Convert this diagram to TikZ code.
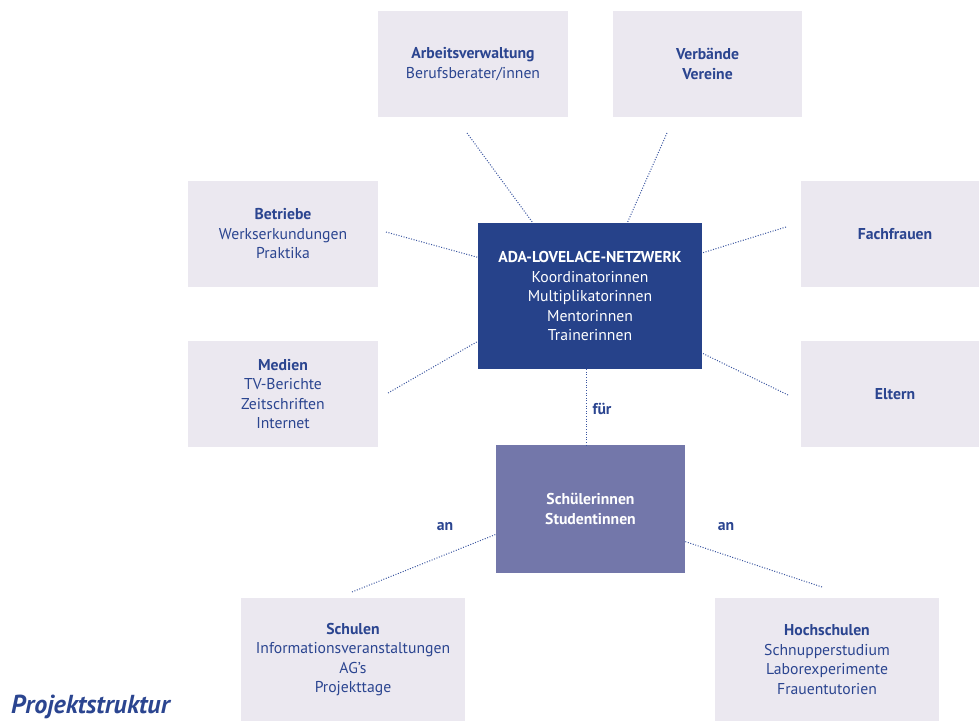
\documentclass[tikz,border=0pt]{standalone}
\usepackage{fontspec}
\setmainfont{PT Sans}
\definecolor{boxgray}{HTML}{EBE8F0}
\definecolor{navy}{HTML}{26428A}
\definecolor{lilac}{HTML}{7377AA}
\definecolor{txtblue}{HTML}{2B4590}
\definecolor{dotblue}{HTML}{3A55A0}
\tikzset{
  sidebox/.style={fill=boxgray, text=txtblue, align=center, inner sep=0pt,
    font=\fontsize{15.7}{19.5}\selectfont},
  mainbox/.style={fill=navy, text=white, align=center, inner sep=0pt,
    font=\fontsize{15.7}{19.5}\selectfont},
  targetbox/.style={fill=lilac, text=white, align=center, inner sep=0pt,
    font=\fontsize{15.7}{19.5}\selectfont\bfseries},
  link/.style={draw=dotblue, line width=1pt, dash pattern=on 1pt off 1.6pt},
  lbl/.style={text=txtblue, font=\fontsize{15.7}{17}\selectfont\bfseries, inner sep=0pt}
}
\begin{document}
\begin{tikzpicture}[x=1pt, y=-1pt]
\useasboundingbox (0,0) rectangle (979,720);
% side boxes
\node[sidebox, minimum width=190pt, minimum height=106pt] (arb) at (473,64) {\textbf{Arbeitsverwaltung}\\Berufsberater/innen};
\node[sidebox, minimum width=189pt, minimum height=106pt] (verb) at (707.5,64) {\textbf{Verbände}\\\textbf{Vereine}};
\node[sidebox, minimum width=190pt, minimum height=106pt] (bet) at (283,234) {\textbf{Betriebe}\\Werkserkundungen\\Praktika};
\node[sidebox, minimum width=190pt, minimum height=106pt] (med) at (283,394) {\textbf{Medien}\\TV-Berichte\\Zeitschriften\\Internet};
\node[sidebox, minimum width=188pt, minimum height=106pt] (fach) at (895,234) {\textbf{Fachfrauen}};
\node[sidebox, minimum width=188pt, minimum height=106pt] (elt) at (895,394) {\textbf{Eltern}};
% centre
\node[mainbox, minimum width=224pt, minimum height=146pt] (ada) at (590,296) {\textbf{ADA-LOVELACE-NETZWERK}\\Koordinatorinnen\\Multiplikatorinnen\\Mentorinnen\\Trainerinnen};
\node[targetbox, minimum width=189pt, minimum height=128pt] (sch) at (590.5,509) {Schülerinnen\\Studentinnen};
% bottom boxes
\node[sidebox, minimum width=224pt, minimum height=123pt] (sul) at (353,659.5) {\textbf{Schulen}\\Informationsveranstaltungen\\AG’s\\Projekttage};
\node[sidebox, minimum width=224pt, minimum height=123pt] (hoch) at (827,659.5) {\textbf{Hochschulen}\\Schnupperstudium\\Laborexperimente\\Frauentutorien};
% connector ends
\coordinate (arbE) at (467,133);
\coordinate (verbE) at (667,133);
\coordinate (betE) at (386,232);
\coordinate (medE) at (388,393);
\coordinate (fachE) at (786,227);
\coordinate (eltE) at (788,395);
\coordinate (sulE) at (352,592);
\coordinate (hochE) at (822,587);
% connectors
\draw[link] (arbE) -- (ada.128);
\draw[link] (verbE) -- (ada.63.1);
\draw[link] (betE) -- (ada.161.3);
\draw[link] (medE) -- (ada.202.8);
\draw[link] (fachE) -- (ada.21.4);
\draw[link] (eltE) -- (ada.333.8);
\draw[link] (ada.267.6) -- (ada.267.6 |- sch.north);
\draw[link] (sulE) -- (sch.195.4);
\draw[link] (hochE) -- (sch.341.8);
% labels
\node[lbl] (fuer) at (602,409) {für};
\node[lbl] (anL) at (445,527) {an};
\node[lbl] (anR) at (726,527) {an};
\node[text=txtblue, font=\fontsize{26}{29}\selectfont\bfseries\itshape, anchor=base west, inner sep=0pt] (title) at (11,713) {Projektstruktur};
\end{tikzpicture}
\end{document}
